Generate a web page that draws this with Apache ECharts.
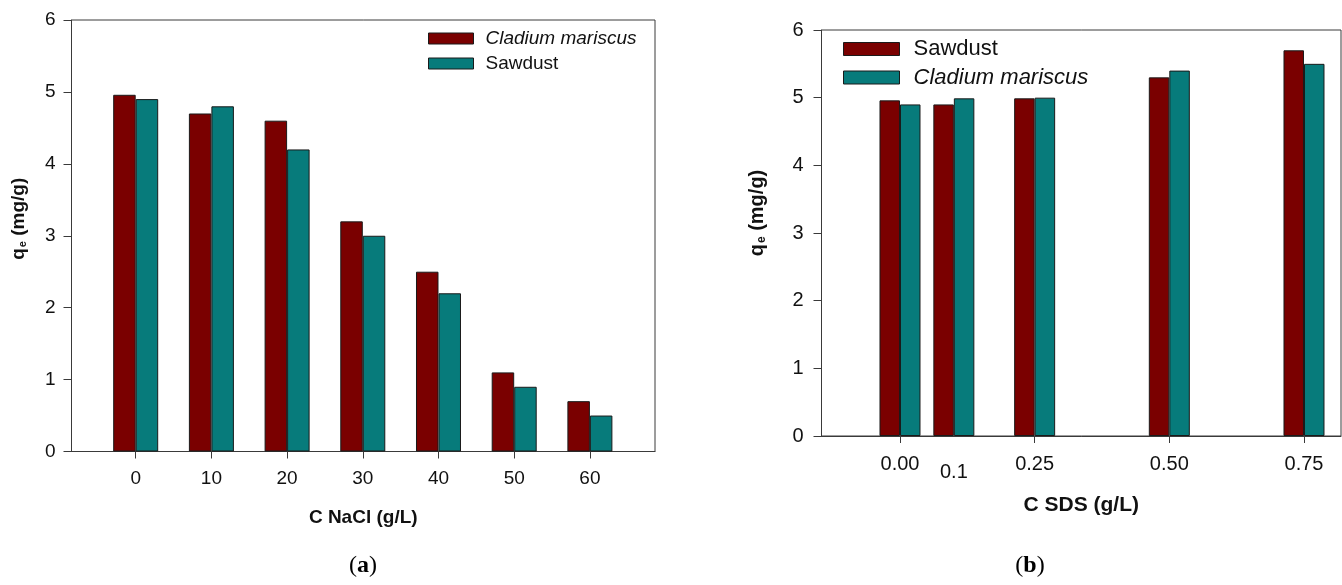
<!DOCTYPE html>
<html>
<head>
<meta charset="utf-8">
<script src="https://cdn.jsdelivr.net/npm/echarts@6/dist/echarts.min.js"></script>
<style>
  html, body { margin: 0; padding: 0; background: #fff; }
  #wrap { position: relative; width: 1342px; height: 585px; overflow: hidden; }
  #chartA { position: absolute; left: 0; top: 0; width: 700px; height: 585px; }
  #chartB { position: absolute; left: 700px; top: 0; width: 642px; height: 585px; }
</style>
</head>
<body>
<div id="wrap">
  <div id="chartA"></div>
  <div id="chartB"></div>
</div>
<script>
// (a) adsorption capacity vs NaCl concentration (g/L)
const naclConc = [0, 10, 20, 30, 40, 50, 60];
const naclCladium = [4.96, 4.70, 4.60, 3.20, 2.50, 1.10, 0.70];
const naclSawdust = [4.90, 4.80, 4.20, 3.00, 2.20, 0.90, 0.50];

// (b) adsorption capacity vs SDS concentration (g/L)
const sdsConc = [0, 0.1, 0.25, 0.5, 0.75];
const sdsTickLabels = ['0.00', '0.1', '0.25', '0.50', '0.75'];
const sdsTickMarks = [0, 0.25, 0.5, 0.75];
const sdsSawdust = [4.96, 4.90, 4.99, 5.30, 5.70];
const sdsCladium = [4.90, 4.99, 5.00, 5.40, 5.50];

const SPECIES = 'Cladium mariscus';
const SAWDUST = 'Sawdust';

const RED = '#7a0000';
const TEAL = '#077b7b';
const LINE = '#3a3a3a';
const FONT = '"Liberation Sans", Arial, sans-serif';
const SERIF = '"Liberation Serif", "DejaVu Serif", serif';

function pairs(xs, ys) {
  return xs.map((x, i) => [x, ys[i]]);
}

function legendFormatter(name) {
  return name === SPECIES ? '{i|' + name + '}' : '{n|' + name + '}';
}

function yAxisCfg(fs, gap, shiftUp, labelMargin) {
  return {
    type: 'value', min: 0, max: 6, interval: 1,
    name: '{t|q}{s|e}{t| (mg/g)}',
    nameLocation: 'middle', nameRotate: 90, nameGap: gap,
    nameTextStyle: {
      padding: [0, 0, 0, shiftUp],
      rich: {
        t: { fontSize: fs, fontWeight: 'bold', fontFamily: FONT, color: '#111' },
        s: { fontSize: Math.round(fs * 0.6), fontWeight: 'bold', fontFamily: FONT, color: '#111', verticalAlign: 'bottom', padding: [7, 0, 0, 1] }
      }
    },
    axisLine: { show: true, onZero: false, lineStyle: { color: LINE, width: 1 } },
    axisTick: { show: true, length: 8, lineStyle: { color: LINE, width: 1 } },
    axisLabel: { fontSize: fs, color: '#111', fontFamily: FONT, margin: labelMargin },
    splitLine: { show: false }
  };
}

function barSeries(name, data, color, width) {
  return {
    type: 'bar', name: name, data: data,
    barWidth: width, barGap: '0%',
    itemStyle: { color: color, borderColor: '#1a1a1a', borderWidth: 1 },
    emphasis: { disabled: true },
    animation: false
  };
}

// ---------- panel (a) ----------
const chartA = echarts.init(document.getElementById('chartA'), null, { renderer: 'canvas' });
chartA.setOption({
  animation: false,
  grid: { left: 71.5, top: 20, width: 583.5, height: 431.5, show: true, borderColor: LINE, borderWidth: 1, backgroundColor: 'transparent' },
  legend: {
    orient: 'vertical', left: 428, top: 29, padding: 0,
    itemWidth: 45, itemHeight: 11, itemGap: 6, icon: 'rect',
    selectedMode: false,
    data: [SPECIES, SAWDUST],
    formatter: legendFormatter,
    itemStyle: { borderColor: '#1a1a1a', borderWidth: 1 },
    textStyle: {
      color: '#111', fontFamily: FONT, fontSize: 19,
      rich: {
        i: { fontStyle: 'italic', fontSize: 19, fontFamily: FONT, padding: [0, 0, 0, 7], lineHeight: 20 },
        n: { fontSize: 19, fontFamily: FONT, padding: [0, 0, 0, 7], lineHeight: 20 }
      }
    }
  },
  xAxis: {
    type: 'value', min: -8.48, max: 68.6,
    name: 'C NaCl (g/L)', nameLocation: 'middle', nameGap: 57,
    nameTextStyle: { fontSize: 19, fontWeight: 'bold', fontFamily: FONT, color: '#111' },
    axisLine: { show: true, onZero: false, lineStyle: { color: LINE, width: 1 } },
    axisTick: { show: true, length: 7, customValues: naclConc, lineStyle: { color: LINE, width: 1 } },
    axisLabel: { customValues: naclConc, fontSize: 19, color: '#111', fontFamily: FONT, margin: 18 },
    splitLine: { show: false }
  },
  yAxis: yAxisCfg(19, 43, 34, 16),
  series: [
    barSeries(SPECIES, pairs(naclConc, naclCladium), RED, 22.5),
    barSeries(SAWDUST, pairs(naclConc, naclSawdust), TEAL, 22.5)
  ],
  graphic: [{
    type: 'text', x: 363, y: 566,
    style: {
      text: '{p|(}{b|a}{p|)}', align: 'center', verticalAlign: 'middle',
      rich: {
        p: { fontSize: 24, fontFamily: SERIF, color: '#111' },
        b: { fontSize: 24, fontFamily: SERIF, fontWeight: 'bold', color: '#111' }
      }
    }
  }]
});

// ---------- panel (b) ----------
const chartB = echarts.init(document.getElementById('chartB'), null, { renderer: 'canvas' });
chartB.setOption({
  animation: false,
  grid: { left: 121.5, top: 30, width: 519.5, height: 406, show: true, borderColor: LINE, borderWidth: 1, backgroundColor: 'transparent' },
  legend: {
    orient: 'vertical', left: 143, top: 38, padding: 0,
    itemWidth: 56, itemHeight: 13, itemGap: 6.5, icon: 'rect',
    selectedMode: false,
    data: [SAWDUST, SPECIES],
    formatter: legendFormatter,
    itemStyle: { borderColor: '#1a1a1a', borderWidth: 1 },
    textStyle: {
      color: '#111', fontFamily: FONT, fontSize: 22,
      rich: {
        i: { fontStyle: 'italic', fontSize: 22, fontFamily: FONT, padding: [0, 0, 0, 9], lineHeight: 24 },
        n: { fontSize: 22, fontFamily: FONT, padding: [0, 0, 0, 9], lineHeight: 24 }
      }
    }
  },
  xAxis: {
    type: 'value', min: -0.1457, max: 0.8187,
    name: 'C SDS (g/L)', nameLocation: 'middle', nameGap: 59,
    nameTextStyle: { fontSize: 21, fontWeight: 'bold', fontFamily: FONT, color: '#111' },
    axisLine: { show: true, onZero: false, lineStyle: { color: LINE, width: 1 } },
    axisTick: { show: true, length: 7, customValues: sdsTickMarks, lineStyle: { color: LINE, width: 1 } },
    axisLabel: {
      customValues: sdsConc, fontSize: 20, color: '#111', fontFamily: FONT, margin: 18,
      formatter: function (v) {
        const i = sdsConc.findIndex(c => Math.abs(c - v) < 1e-6);
        const txt = i >= 0 ? sdsTickLabels[i] : String(v);
        return i === 1 ? '{low|' + txt + '}' : txt;
      },
      rich: { low: { fontSize: 20, fontFamily: FONT, color: '#111', padding: [8, 0, 0, 0] } }
    },
    splitLine: { show: false }
  },
  yAxis: yAxisCfg(20, 54, 40, 18),
  series: [
    barSeries(SAWDUST, pairs(sdsConc, sdsSawdust), RED, 20.5),
    barSeries(SPECIES, pairs(sdsConc, sdsCladium), TEAL, 20.5)
  ],
  graphic: [{
    type: 'text', x: 330, y: 566,
    style: {
      text: '{p|(}{b|b}{p|)}', align: 'center', verticalAlign: 'middle',
      rich: {
        p: { fontSize: 24, fontFamily: SERIF, color: '#111' },
        b: { fontSize: 24, fontFamily: SERIF, fontWeight: 'bold', color: '#111' }
      }
    }
  }]
});
</script>
</body>
</html>
